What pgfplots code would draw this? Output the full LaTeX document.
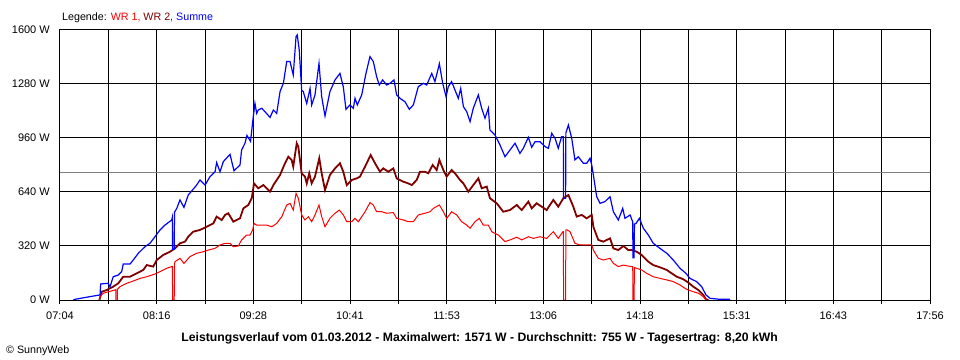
\documentclass[border=0pt]{standalone}
\usepackage{fontspec}
\setmainfont{Liberation Sans}
\usepackage{pgfplots}
\pgfplotsset{compat=1.18}
\definecolor{wrone}{RGB}{255,0,0}
\definecolor{wrtwo}{RGB}{128,0,0}
\definecolor{summe}{RGB}{0,0,255}
\definecolor{avgline}{RGB}{128,128,128}
\begin{document}
\begin{tikzpicture}[font=\fontsize{10.7bp}{12bp}\selectfont]
\useasboundingbox (-60bp,-60bp) rectangle (900bp,300bp);
\begin{axis}[at={(0,0)}, anchor=south west, scale only axis, width=870bp, height=270bp,
  xmin=424, xmax=1076, ymin=0, ymax=1600,
  xtick={424,460.222,496.444,532.667,568.889,605.111,641.333,677.556,713.778,750,786.222,822.444,858.667,894.889,931.111,967.333,1003.556,1039.778,1076},
  xticklabels={07:04,,08:16,,09:28,,10:41,,11:53,,13:06,,14:18,,15:31,,16:43,,17:56},
  ytick={0,320,640,960,1280,1600},
  yticklabels={0 W,320 W,640 W,960 W,1280 W,1600 W},
  grid=major, grid style={black, line width=1bp},
  axis line style={black, line width=1bp},
  tick align=outside, major tick length=4bp, xtick pos=bottom, ytick pos=left,
  xtick style={black, line width=1bp}, ytick style={draw=none},
  tick label style={font=\fontsize{11bp}{12bp}\selectfont},
  xticklabel style={inner sep=0pt, anchor=north},
  yticklabel style={inner sep=0pt, anchor=east},
  xticklabel shift=7.5bp, yticklabel shift=6bp,
]
\addplot[avgline, line width=1bp, forget plot] coordinates {(424,755) (1076,755)};
% WR 2
\addplot[wrtwo, line width=1.8bp, forget plot] coordinates {
(453.5,0) (455.3,49) (459.0,59) (463.9,79) (467.7,99) (471.4,138) (476.5,138) (481.5,158) (486.4,178) (489.0,207) (493.9,198) (496.5,237) (501.4,267) (506.4,286) (510.2,306) (513.9,336) (517.7,346) (520.1,375) (523.9,405) (528.9,415) (533.9,434) (538.9,454) (541.4,494) (545.2,474) (547.7,504) (550.1,514) (553.9,464) (558.9,484) (561.4,543) (565.1,563) (567.7,603) (569.4,691) (572.6,662) (576.4,681) (581.4,642) (583.9,681) (588.9,741) (592.6,810) (595.1,849) (597.6,830) (598.8,790) (601.4,929) (602.6,909) (605.1,751) (607.6,731) (608.9,691) (610.8,751) (612.6,691) (615.1,731) (618.3,840) (620.1,751) (622.6,652) (626.3,741) (630.1,780) (633.8,810) (636.3,760) (638.9,681) (642.6,711) (646.4,721) (648.8,731) (652.6,790) (656.8,859) (660.1,810) (663.8,760) (666.3,780) (670.0,760) (673.8,780) (676.3,721) (681.3,701) (685.0,691) (687.6,681) (691.3,711) (693.8,760) (697.5,760) (700.0,751) (703.3,800) (706.3,770) (708.3,830) (711.3,770) (713.8,731) (717.5,770) (720.0,751) (723.8,711) (726.3,691) (730.0,642) (733.7,681) (737.5,721) (740.0,662) (743.8,672) (746.2,603) (751.3,573) (756.2,523) (761.2,533) (766.3,563) (770.0,533) (775.0,583) (777.5,543) (781.2,573) (785.0,553) (788.7,533) (793.7,593) (797.4,553) (801.2,603) (805.0,622) (808.7,553) (811.2,494) (815.0,504) (818.7,484) (822.5,504) (823.7,434) (827.4,356) (831.2,346) (836.2,365) (838.7,306) (842.4,296) (846.2,320) (849.9,296) (852.4,296) (856.2,286) (859.9,267) (864.9,227) (868.6,207) (873.6,194) (878.7,178) (882.4,158) (886.2,138) (891.1,123) (894.9,103) (898.6,79) (902.4,59) (906.1,30) (908.1,4) (910,0)
};
% WR 1
\addplot[wrone, line width=1bp, forget plot] coordinates {
(453.5,0) (454.0,20) (456.4,40) (460.2,49) (465.2,59) (465.8,62) (465.9,0) (467.0,0) (467.1,65) (469.0,79) (474.0,99) (477.7,109) (484.0,128) (489.0,138) (495.2,154) (498.9,168) (504.0,188) (507.7,198) (508.2,198) (508.4,0) (509.6,0) (509.8,215) (510.2,227) (513.9,247) (516.9,217) (521.4,257) (526.4,277) (531.4,286) (535.1,296) (540.2,306) (543.9,326) (547.7,336) (551.4,336) (553.9,316) (557.6,320) (560.1,356) (563.9,385) (566.4,385) (568.4,415) (569.4,454) (571.4,444) (575.2,444) (578.9,444) (582.7,434) (586.4,454) (590.2,494) (593.9,563) (596.4,573) (598.8,533) (600.9,632) (602.6,603) (605.1,504) (607.6,474) (610.1,494) (612.6,464) (615.1,504) (618.1,563) (620.1,494) (622.6,434) (626.3,484) (630.1,514) (633.3,533) (636.3,504) (638.9,464) (642.6,464) (645.1,484) (647.6,464) (652.6,523) (656.3,577) (658.8,563) (661.3,523) (665.1,523) (668.8,514) (673.8,518) (676.3,484) (681.3,474) (685.0,464) (688.8,464) (692.5,504) (697.5,514) (701.3,523) (703.8,543) (708.3,563) (711.3,523) (713.8,484) (717.5,523) (721.3,504) (725.0,464) (728.8,444) (731.3,425) (735.0,464) (738.2,484) (741.2,444) (745.0,444) (747.5,405) (752.5,385) (757.5,346) (761.2,356) (766.3,372) (770.0,356) (775.0,375) (778.7,365) (783.7,375) (788.7,365) (793.7,405) (797.4,365) (800.9,405) (801.2,405) (801.4,0) (802.9,0) (803.1,415) (804.2,415) (806.2,405) (809.9,336) (813.7,326) (818.7,326) (822.5,326) (823.7,296) (827.4,247) (831.2,237) (836.2,247) (838.7,217) (842.4,198) (846.2,207) (849.9,201) (852.4,198) (853.2,198) (853.4,0) (854.2,0) (854.5,192) (856.2,188) (859.9,178) (863.7,158) (868.6,138) (873.6,128) (878.7,119) (883.6,109) (888.6,89) (892.4,69) (894.9,59) (898.6,49) (902.4,40) (906.1,20) (908.1,0)
};
% Summe
\addplot[summe, line width=1.2bp, forget plot] coordinates {
(434,0) (435.2,4) (446.5,20) (454.0,30) (454.5,95) (460.0,99) (461.5,79) (463.9,138) (467.7,148) (470.2,168) (471.4,213) (476.5,213) (478.9,237) (482.7,277) (487.7,316) (491.4,336) (495.2,375) (498.9,415) (502.7,444) (507.7,474) (508.2,490) (508.4,300) (509.6,300) (509.8,520) (511.5,543) (513.9,593) (516.9,549) (520.1,622) (526.4,681) (528.9,711) (532.7,681) (536.4,731) (540.2,760) (541.4,814) (543.9,760) (546.4,820) (551.4,863) (554.4,766) (558.9,800) (560.1,889) (562.6,929) (564.1,975) (566.8,940) (568.4,1057) (570.1,1165) (571.4,1106) (572.6,1126) (575.2,1136) (577.6,1116) (581.4,1082) (583.9,1126) (586.4,1106) (588.9,1235) (591.4,1284) (593.9,1413) (596.4,1413) (598.8,1333) (600.9,1561) (601.8,1571) (603.3,1482) (605.1,1244) (606.3,1235) (608.9,1165) (611.4,1254) (612.6,1156) (615.1,1215) (618.1,1402) (620.1,1205) (622.6,1090) (626.3,1235) (630.1,1304) (633.8,1343) (636.3,1264) (638.3,1130) (641.3,1156) (643.8,1136) (645.1,1195) (646.8,1156) (650.1,1215) (653.3,1343) (656.3,1442) (658.8,1413) (661.3,1323) (663.3,1274) (665.8,1304) (668.8,1274) (671.3,1284) (674.3,1304) (676.3,1215) (678.8,1195) (682.5,1175) (685.8,1130) (688.8,1156) (692.5,1264) (696.3,1284) (698.8,1274) (702.6,1343) (705.0,1294) (708.3,1400) (710.8,1284) (713.3,1205) (715.0,1264) (717.5,1294) (720.0,1244) (722.5,1195) (724.3,1254) (726.3,1146) (728.8,1116) (731.3,1057) (733.7,1136) (737.5,1215) (740.0,1136) (742.5,1077) (745.0,1136) (746.2,1007) (750.0,978) (753.7,919) (757.5,849) (761.2,889) (765.0,929) (768.7,869) (771.2,899) (775.0,964) (777.5,905) (780.0,938) (783.7,938) (787.5,909) (790.0,899) (792.5,988) (795.0,958) (797.4,899) (799.9,968) (801.2,968) (801.4,603) (802.9,603) (803.1,990) (805.0,1037) (807.5,958) (809.9,830) (812.4,849) (816.2,810) (818.7,810) (821.2,840) (822.5,800) (823.7,741) (826.2,612) (828.7,573) (832.4,583) (836.2,612) (838.7,523) (842.4,474) (845.7,543) (847.4,484) (851.2,504) (853.2,464) (853.4,250) (854.2,250) (854.5,450) (855.7,454) (858.2,484) (861.2,425) (864.9,385) (868.6,336) (873.6,306) (878.7,277) (883.6,237) (888.6,188) (893.1,158) (896.1,128) (901.1,109) (904.9,79) (908.1,30) (911.1,10) (918.6,4) (925.6,4) (926,0)
};
\end{axis}
\node[anchor=base west, inner sep=0pt] at (2bp,279.3bp) {Legende: \textcolor{wrone}{WR 1,} \textcolor{wrtwo}{WR 2,} \textcolor{summe}{Summe}};
\node[anchor=base, inner sep=0pt, font=\fontsize{12.2bp}{14bp}\selectfont\bfseries] at (419.7bp,-41bp) {Leistungsverlauf vom 01.03.2012 - Maximalwert: 1571 W - Durchschnitt: 755 W - Tagesertrag: 8,20 kWh};
\node[anchor=base west, inner sep=0pt] at (-54bp,-53.3bp) {\textcopyright{} SunnyWeb};
\end{tikzpicture}
\end{document}
